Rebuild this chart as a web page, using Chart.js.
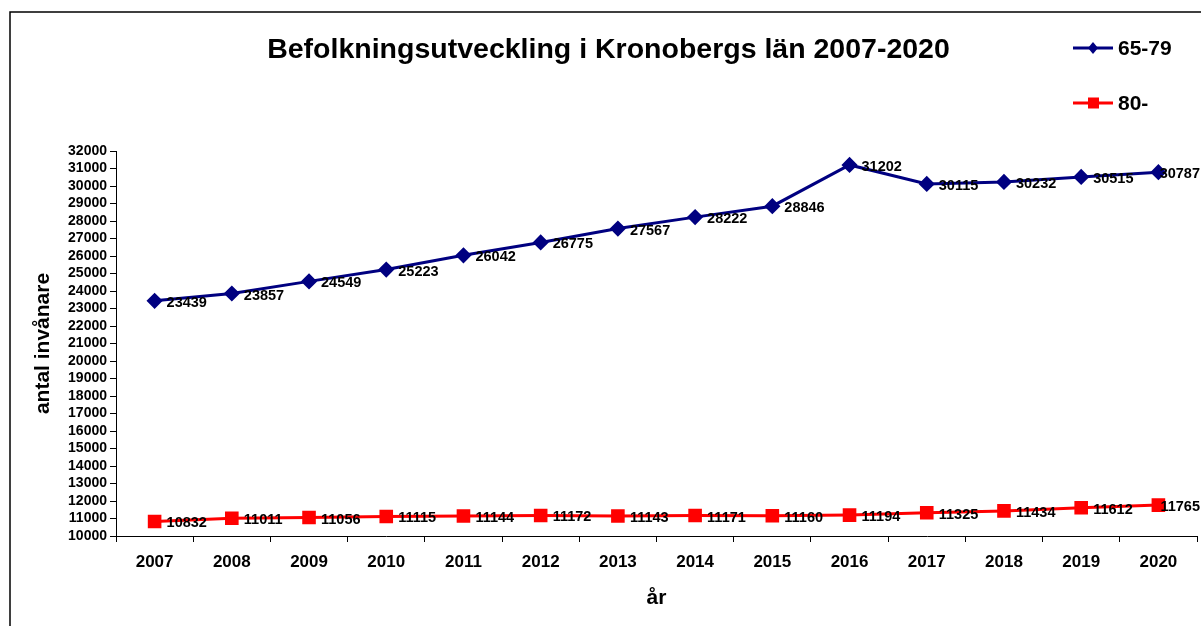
<!DOCTYPE html>
<html>
<head>
<meta charset="utf-8">
<title>Befolkningsutveckling i Kronobergs län 2007-2020</title>
<script src="https://cdn.jsdelivr.net/npm/chart.js@4.4.0/dist/chart.umd.min.js"></script>
<style>
  html, body { margin: 0; padding: 0; background: #fff; }
  canvas { display: block; }
</style>
</head>
<body>
<canvas id="chart" width="1201" height="626"></canvas>
<script>
const years = ['2007', '2008', '2009', '2010', '2011', '2012', '2013', '2014', '2015', '2016', '2017', '2018', '2019', '2020'];
const age65to79 = [23439, 23857, 24549, 25223, 26042, 26775, 27567, 28222, 28846, 31202, 30115, 30232, 30515, 30787];
const age80plus = [10832, 11011, 11056, 11115, 11144, 11172, 11143, 11171, 11160, 11194, 11325, 11434, 11612, 11765];

const FONT = '"Liberation Sans", Arial, sans-serif';

// frame around the chart (top and left edges visible)
const framePlugin = {
  id: 'frame',
  beforeDraw(chart) {
    const ctx = chart.ctx;
    ctx.save();
    ctx.strokeStyle = '#000';
    ctx.lineWidth = 1.5;
    ctx.beginPath();
    ctx.moveTo(10, chart.height);
    ctx.lineTo(10, 12);
    ctx.lineTo(chart.width, 12);
    ctx.stroke();
    ctx.restore();
  }
};

// value labels to the right of each point, pushed left if they would leave the canvas
const valueLabels = {
  id: 'valueLabels',
  afterDatasetsDraw(chart) {
    const ctx = chart.ctx;
    ctx.save();
    ctx.font = 'bold 14.5px ' + FONT;
    ctx.fillStyle = '#000';
    ctx.textBaseline = 'middle';
    ctx.textAlign = 'left';
    chart.data.datasets.forEach((ds, i) => {
      chart.getDatasetMeta(i).data.forEach((pt, j) => {
        const txt = String(ds.data[j]);
        const w = ctx.measureText(txt).width;
        const x = Math.min(pt.x + 12, chart.width - w - 1);
        ctx.fillText(txt, x, pt.y + 2);
      });
    });
    ctx.restore();
  }
};

// legend in the top-right corner, stacked
const sideLegend = {
  id: 'sideLegend',
  afterDraw(chart) {
    const ctx = chart.ctx;
    const rows = [48, 103];
    ctx.save();
    chart.data.datasets.forEach((ds, i) => {
      const y = rows[i];
      ctx.strokeStyle = ds.borderColor;
      ctx.lineWidth = 3;
      ctx.beginPath();
      ctx.moveTo(1073, y);
      ctx.lineTo(1113, y);
      ctx.stroke();
      ctx.fillStyle = ds.pointBackgroundColor;
      if (ds.pointStyle === 'rectRot') {
        ctx.beginPath();
        ctx.moveTo(1093, y - 6);
        ctx.lineTo(1098, y);
        ctx.lineTo(1093, y + 6);
        ctx.lineTo(1088, y);
        ctx.closePath();
        ctx.fill();
      } else {
        ctx.fillRect(1088, y - 5.5, 11, 11);
      }
      ctx.fillStyle = '#000';
      ctx.font = 'bold 21px ' + FONT;
      ctx.textBaseline = 'middle';
      ctx.fillText(ds.label, 1118, y + 1);
    });
    ctx.restore();
  }
};

new Chart(document.getElementById('chart'), {
  type: 'line',
  data: {
    labels: years,
    datasets: [
      {
        label: '65-79',
        data: age65to79,
        borderColor: '#000080',
        backgroundColor: '#000080',
        pointBackgroundColor: '#000080',
        pointBorderColor: '#000080',
        pointStyle: 'rectRot',
        pointRadius: 6,
        borderWidth: 3,
        tension: 0
      },
      {
        label: '80-',
        data: age80plus,
        borderColor: '#ff0000',
        backgroundColor: '#ff0000',
        pointBackgroundColor: '#ff0000',
        pointBorderColor: '#ff0000',
        pointStyle: 'rect',
        pointRadius: 7.5,
        borderWidth: 3,
        tension: 0
      }
    ]
  },
  options: {
    responsive: false,
    animation: false,
    layout: { autoPadding: false, padding: { left: 20, right: 4, top: 30, bottom: 0 } },
    plugins: {
      legend: { display: false },
      tooltip: { enabled: false },
      title: {
        display: true,
        text: 'Befolkningsutveckling i Kronobergs län 2007-2020',
        color: '#000',
        font: { family: FONT, size: 28.5, weight: 'bold', lineHeight: 1.2 },
        padding: { top: 3, bottom: 83.8 }
      }
    },
    scales: {
      x: {
        offset: true,
        grid: { offset: true, drawOnChartArea: false, drawTicks: true, tickLength: 6, color: '#000' },
        border: { display: true, color: '#000', width: 1 },
        ticks: { color: '#000', font: { family: FONT, size: 17, weight: 'bold' }, padding: 10, maxRotation: 0 },
        title: {
          display: true,
          text: 'år',
          color: '#000',
          font: { family: FONT, size: 21, weight: 'bold', lineHeight: 1.2 },
          padding: { top: 0, bottom: 15.4 }
        },
        afterFit(scale) {
          scale.height = 90;
          scale.paddingLeft = 0;
          scale.paddingRight = 0;
        }
      },
      y: {
        min: 10000,
        max: 32000,
        grid: { drawOnChartArea: false, drawTicks: true, tickLength: 6, color: '#000' },
        border: { display: true, color: '#000', width: 1 },
        ticks: {
          stepSize: 1000,
          autoSkip: false,
          color: '#000',
          font: { family: FONT, size: 14, weight: 'bold' },
          padding: 3,
          callback: (v) => String(v)
        },
        title: {
          display: true,
          text: 'antal invånare',
          color: '#000',
          font: { family: FONT, size: 21, weight: 'bold', lineHeight: 1.2 },
          padding: { top: 10.4, bottom: 0 }
        },
        afterFit(scale) { scale.width = 96; }
      }
    }
  },
  plugins: [framePlugin, valueLabels, sideLegend]
});
</script>
</body>
</html>
